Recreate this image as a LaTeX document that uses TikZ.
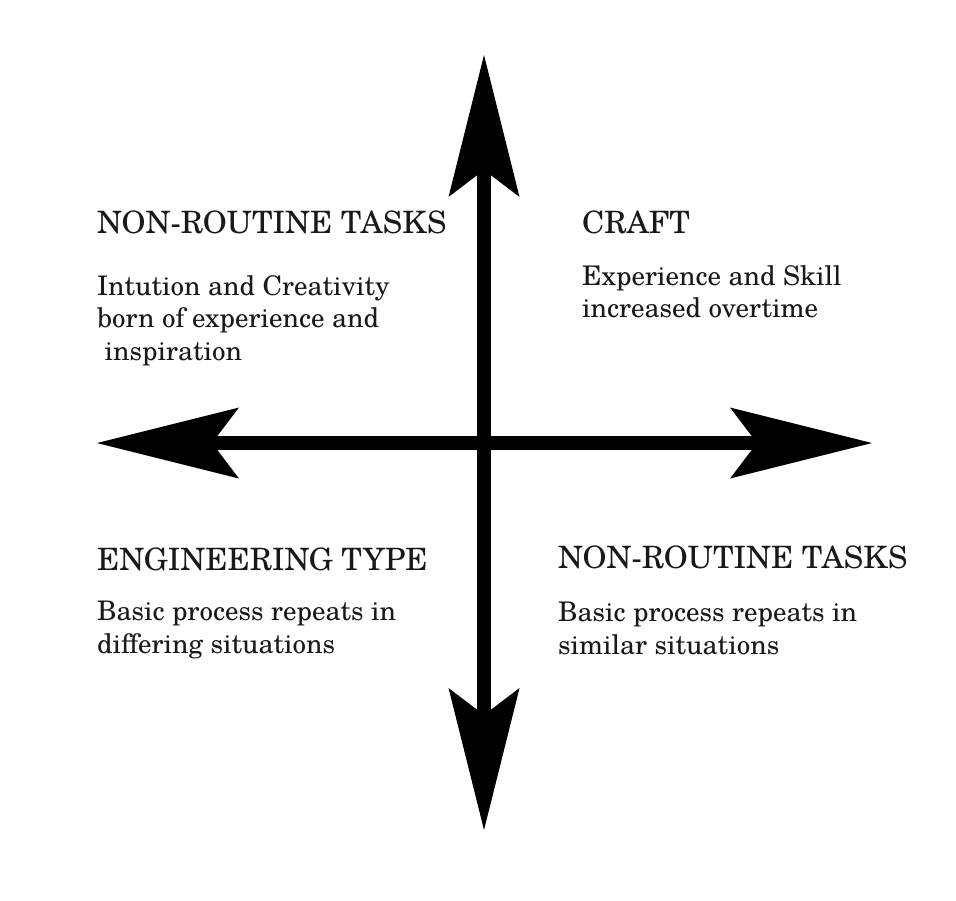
\documentclass[tikz,border=0pt]{standalone}
\usepackage{fontspec}
\setmainfont{TeX Gyre Schola}
\usepackage{tikz}
\usetikzlibrary{arrows.meta}

\begin{document}
\begin{tikzpicture}[x=1pt, y=-1pt,
  >={Stealth[length=142pt, width=71pt, inset=27pt, line width=0pt]},
  axis/.style={line width=14pt, <->},
  heading/.style={anchor=base west, inner sep=0pt, text=black!90, font=\fontsize{30.8}{36}\selectfont},
  body/.style={anchor=north west, inner sep=0pt, align=left, text=black!90, font=\fontsize{27}{32.5}\selectfont}]
  \useasboundingbox (0,0) rectangle (956,900);

  % Axes
  \coordinate (north) at (484,55);
  \coordinate (south) at (484,830);
  \coordinate (west) at (97,443);
  \coordinate (east) at (872,443);
  \draw[axis] (west) -- (east);
  \draw[axis] (north) -- (south);

  % Quadrants
  \node[heading] (nrtop) at (97,233) {NON-ROUTINE TASKS};
  \node[body] (nrtoptxt) at (97,275) {Intution and Creativity\\born of experience and\\\ inspiration};

  \node[heading] (craft) at (582,233) {CRAFT};
  \node[body] (crafttxt) at (582,265) {Experience and Skill\\increased overtime};

  \node[heading] (eng) at (97,570) {ENGINEERING TYPE};
  \node[body] (engtxt) at (97,601) {Basic process repeats in\\differing situations};

  \node[heading] (nrbot) at (558,568) {NON-ROUTINE TASKS};
  \node[body] (nrbottxt) at (558,602) {Basic process repeats in\\similar situations};
\end{tikzpicture}
\end{document}
